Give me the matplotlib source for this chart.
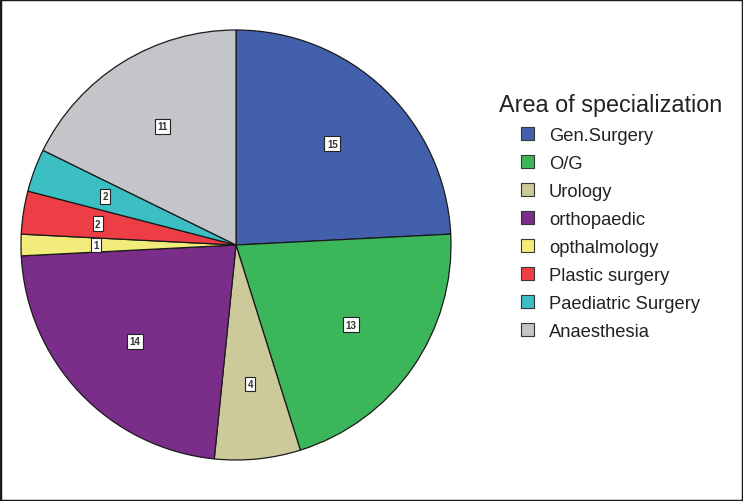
import matplotlib.pyplot as plt
from matplotlib.patches import Rectangle, Patch

# 数据
labels = ['Gen.Surgery', 'O/G', 'Urology', 'orthopaedic', 'opthalmology',
          'Plastic surgery', 'Paediatric Surgery', 'Anaesthesia']
counts = [15, 13, 4, 14, 1, 2, 2, 11]
colors = ['#4360AD', '#3CB65A', '#CCC99A', '#7B2D8A', '#F2EC7A',
          '#EE3E45', '#3CBFC3', '#C4C5C9']

plt.rcParams['font.family'] = ['Liberation Sans', 'DejaVu Sans']

fig = plt.figure(figsize=(7.43, 5.02), dpi=100)
fig.patch.set_facecolor('white')

# 饼图区域（中心约 (236, 246) 像素，半径约 215）
ax = fig.add_axes([21 / 743, 41 / 502, 430 / 743, 430 / 502])
wedges, texts = ax.pie(counts, colors=colors, startangle=90, counterclock=False,
                       labels=[str(c) for c in counts], labeldistance=0.65,
                       wedgeprops=dict(edgecolor='#1a1a1a', linewidth=0.9))
for t in texts:
    t.set_ha('center')
    t.set_va('center')
    t.set_fontsize(7)
    t.set_color('#333333')
    t.set_fontweight('bold')
    t.set_bbox(dict(boxstyle='square,pad=0.25', facecolor='white',
                    edgecolor='#222222', linewidth=0.8))
ax.set_xlim(-1, 1)
ax.set_ylim(-1, 1)
ax.set_aspect('equal')

# 图例
handles = [Patch(facecolor=c, edgecolor='#333333', linewidth=0.8) for c in colors]
leg = fig.legend(handles, labels, loc='upper left', bbox_to_anchor=(499 / 743, 1 - 94 / 502),
                 frameon=False, title='Area of specialization', title_fontsize=16.8,
                 fontsize=13.2, handlelength=0.68, handleheight=0.68, handletextpad=0.85,
                 labelspacing=0.6, borderaxespad=0, borderpad=0)
for t in leg.get_texts():
    t.set_color('#222222')
leg.get_title().set_color('#222222')

# 外框
fig.patches.append(Rectangle((0, 0), 1, 1, transform=fig.transFigure, fill=False,
                             edgecolor='#1a1a1a', linewidth=2.5))

plt.savefig('out.png', dpi=100)
plt.close()
